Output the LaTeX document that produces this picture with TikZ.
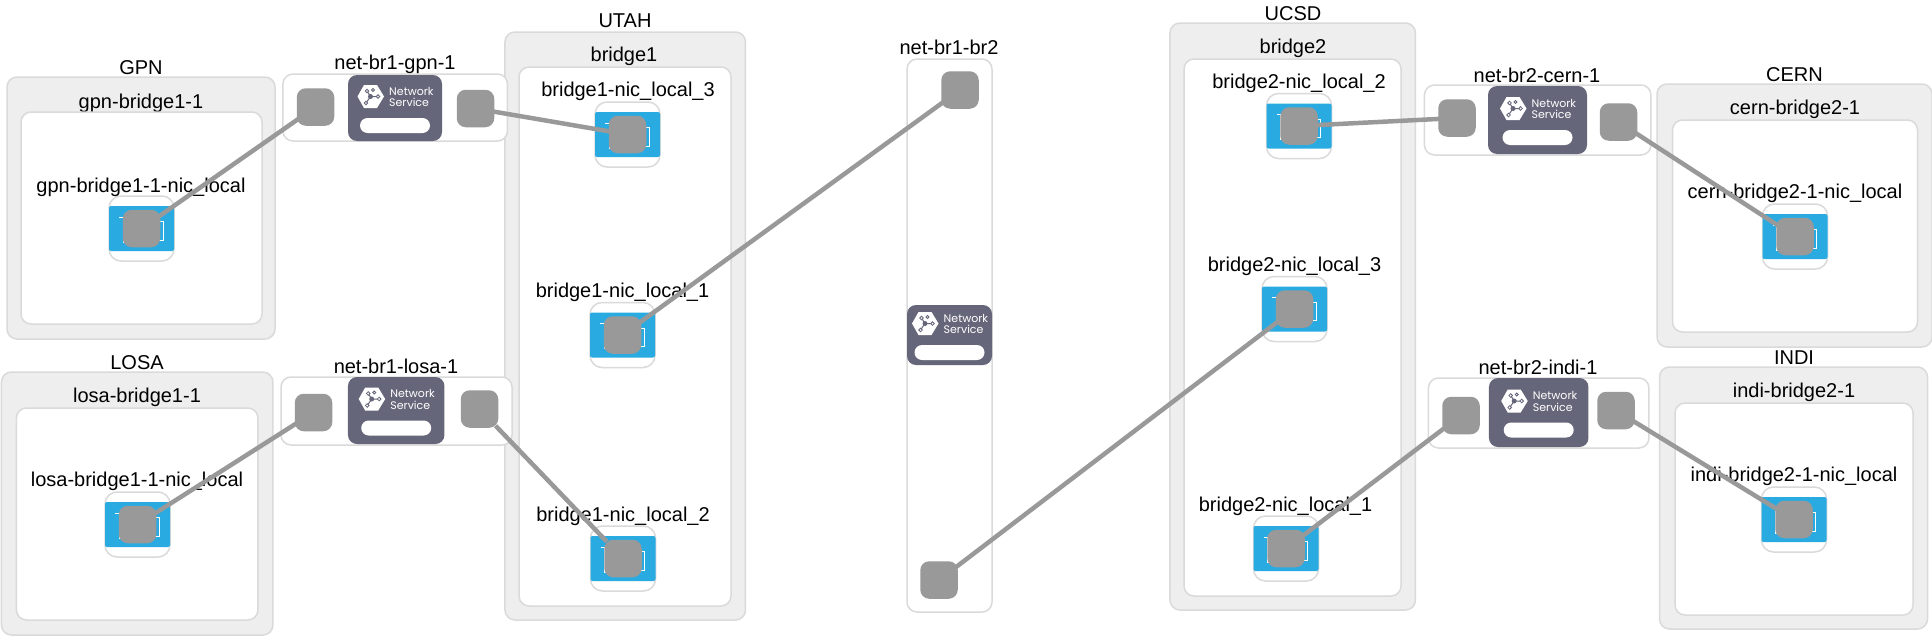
\documentclass[tikz,border=0pt]{standalone}
\usepackage{fontspec}
\usepackage{xcolor}
\setmainfont{Liberation Sans}
\newfontfamily\logofont{Poppins}
\usetikzlibrary{positioning,calc}
\definecolor{sitegray}{HTML}{EEEEEE}
\definecolor{edgegray}{HTML}{DADADA}
\definecolor{portgray}{HTML}{999999}
\definecolor{slate}{HTML}{66667A}
\definecolor{nicblue}{HTML}{29ABE2}

\begin{document}
\begin{tikzpicture}[
    x=1pt, y=-1pt,
    site/.style={rectangle, draw=edgegray, line width=1.5pt, fill=sitegray, rounded corners=10pt, inner sep=0pt},
    inner/.style={rectangle, draw=edgegray, line width=1.5pt, fill=white, rounded corners=10pt, inner sep=0pt},
    network/.style={inner},
    title/.style={font=\fontsize{20}{24}\selectfont, inner sep=0pt, yshift=-1.5pt},
    nicbox/.style={inner, minimum width=65pt, minimum height=65pt, rounded corners=12pt},
    nicface/.style={rectangle, fill=nicblue, minimum width=65pt, minimum height=45pt, rounded corners=2pt, inner sep=0pt},
    port/.style={rectangle, fill=portgray, minimum size=37.5pt, rounded corners=9pt, inner sep=0pt},
    service/.style={rectangle, fill=slate, rounded corners=9pt, inner sep=0pt},
    link/.style={draw=portgray, line width=4.5pt, shorten <=-3pt, shorten >=-3pt},
    nslogo/.pic={
        \fill[white] (-37.5,-11.5) -- (-31,-23) -- (-18,-23) -- (-11,-11.5) -- (-18,0) -- (-31,0) -- cycle;
        \draw[slate, line width=1pt] (-24.5,-11.5) -- (-28,-17) (-24.5,-11.5) -- (-17,-11.5) (-24.5,-11.5) -- (-29,-5);
        \fill[slate] (-24.5,-11.5) circle (2.5);
        \draw[slate, line width=0.8pt, fill=white] (-28,-17) circle (1.8) (-17,-11.5) circle (1.8) (-29,-5) circle (1.8) (-22,-18) circle (1.5);
        \node[anchor=west, align=left, text=white, inner sep=0pt, font=\logofont\fontsize{11}{11.5}\selectfont] (text) at (-6,-11) {Network\\Service};
        \fill[white, rounded corners=7.5pt] (-35,10) rectangle (35,25);
    },
    nicglyph/.pic={
        \draw[white, line width=1pt] (-22.5,-11.5) -- (-18.5,-11.5) -- (-18.5,13.5) -- (-15,13.5);
        \draw[white, line width=1pt] (13,-7) -- (21.5,-7) -- (21.5,11.5) -- (13,11.5);
    }
]
    \useasboundingbox (0,0) rectangle (1932,637);

    % Sites
    \node[site, minimum width=268pt, minimum height=262pt] (gpn) at (141,208) {};
    \node[site, minimum width=271.5pt, minimum height=263pt] (losa) at (137.2,503.5) {};
    \node[site, minimum width=240.5pt, minimum height=588pt] (utah) at (625.2,326) {};
    \node[site, minimum width=245.5pt, minimum height=587pt] (ucsd) at (1292.7,316.5) {};
    \node[site, minimum width=275pt, minimum height=263pt] (cern) at (1794.5,215.5) {};
    \node[site, minimum width=268pt, minimum height=262pt] (indi) at (1793.5,498) {};

    % Site titles
    \node[title] (gpntitle) at (141,66) {GPN};
    \node[title] (losatitle) at (137,361) {LOSA};
    \node[title] (utahtitle) at (625,19) {UTAH};
    \node[title] (ucsdtitle) at (1293,12) {UCSD};
    \node[title] (cerntitle) at (1794.5,73) {CERN};
    \node[title] (indititle) at (1794,356) {INDI};

    % Containers
    \node[title] (gpnbrlabel) at (141,102) {gpn-bridge1-1};
    \node[title] (losabrlabel) at (137,396) {losa-bridge1-1};
    \node[title] (br1label) at (624,55) {bridge1};
    \node[title] (br2label) at (1293,47) {bridge2};
    \node[title] (cernbrlabel) at (1795,108) {cern-bridge2-1};
    \node[title] (indibrlabel) at (1794,391) {indi-bridge2-1};
    \node[inner, minimum width=241pt, minimum height=212pt] (gpnbr) at (141.5,218) {};
    \node[inner, minimum width=241.5pt, minimum height=212pt] (losabr) at (137.2,514) {};
    \node[inner, minimum width=212pt, minimum height=539pt] (br1) at (625,336.5) {};
    \node[inner, minimum width=217pt, minimum height=537pt] (br2) at (1292.5,327.5) {};
    \node[inner, minimum width=245pt, minimum height=212pt] (cernbr) at (1795,226) {};
    \node[inner, minimum width=238pt, minimum height=212pt] (indibr) at (1794,509) {};

    % Networks
    \node[network, minimum width=224.5pt, minimum height=67pt] (netgpn) at (395.2,107.5) {};
    \node[network, minimum width=231pt, minimum height=68pt] (netlosa) at (396.5,411) {};
    \node[network, minimum width=85pt, minimum height=553pt] (netbr) at (949.5,335.5) {};
    \node[network, minimum width=226.5pt, minimum height=70pt] (netcern) at (1537.7,120) {};
    \node[network, minimum width=220.5pt, minimum height=70pt] (netindi) at (1538.7,413) {};

    % Network labels
    \node[title] (netgpnlabel) at (395,63) {net-br1-gpn-1};
    \node[title] (netlosalabel) at (396,365) {net-br1-losa-1};
    \node[title] (netbrlabel) at (949,45.5) {net-br1-br2};
    \node[title] (netcernlabel) at (1537,74) {net-br2-cern-1};
    \node[title] (netindilabel) at (1538,366) {net-br2-indi-1};

    % Services
    \node[service, minimum width=94pt, minimum height=66pt] (svcgpn) at (395,108) {};
    \node[service, minimum width=96.5pt, minimum height=67pt] (svclosa) at (396.2,410.5) {};
    \node[service, minimum width=85pt, minimum height=60pt] (svcbr) at (949.5,335) {};
    \node[service, minimum width=99pt, minimum height=68pt] (svccern) at (1537.5,120) {};
    \node[service, minimum width=99.5pt, minimum height=69pt] (svcindi) at (1538.7,412.5) {};
    \pic (logogpn) at (svcgpn.center) {nslogo};
    \pic (logolosa) at (svclosa.center) {nslogo};
    \pic (logobr) at (svcbr.center) {nslogo};
    \pic (logocern) at (svccern.center) {nslogo};
    \pic (logoindi) at (svcindi.center) {nslogo};

    % NIC boxes
    \node[nicbox] (gpnnicbox) at (141.5,228.5) {};
    \node[nicbox] (losanicbox) at (137.5,524.5) {};
    \node[nicbox] (nic3box) at (627.5,134.5) {};
    \node[nicbox] (nic1box) at (622.5,335) {};
    \node[nicbox] (nic2box) at (623,558.5) {};
    \node[nicbox] (b2nic2box) at (1299,126) {};
    \node[nicbox] (b2nic3box) at (1294.5,309) {};
    \node[nicbox] (b2nic1box) at (1286,548.5) {};
    \node[nicbox] (cernnicbox) at (1795,236.5) {};
    \node[nicbox] (indinicbox) at (1794,519.5) {};

    \node[nicface] (gpnface) at (gpnnicbox) {};
    \node[nicface] (losaface) at (losanicbox) {};
    \node[nicface] (nic3face) at (nic3box) {};
    \node[nicface] (nic1face) at (nic1box) {};
    \node[nicface] (nic2face) at (nic2box) {};
    \node[nicface] (b2nic2face) at (b2nic2box) {};
    \node[nicface] (b2nic3face) at (b2nic3box) {};
    \node[nicface] (b2nic1face) at (b2nic1box) {};
    \node[nicface] (cernface) at (cernnicbox) {};
    \node[nicface] (indiface) at (indinicbox) {};

    \pic (gpnglyph) at (gpnnicbox.center) {nicglyph};
    \pic (losaglyph) at (losanicbox.center) {nicglyph};
    \pic (nic3glyph) at (nic3box.center) {nicglyph};
    \pic (nic1glyph) at (nic1box.center) {nicglyph};
    \pic (nic2glyph) at (nic2box.center) {nicglyph};
    \pic (b2nic2glyph) at (b2nic2box.center) {nicglyph};
    \pic (b2nic3glyph) at (b2nic3box.center) {nicglyph};
    \pic (b2nic1glyph) at (b2nic1box.center) {nicglyph};
    \pic (cernglyph) at (cernnicbox.center) {nicglyph};
    \pic (indiglyph) at (indinicbox.center) {nicglyph};

    % NIC labels
    \node[title] (gpnniclabel) at (141,186) {gpn-bridge1-1-nic\_local};
    \node[title] (losaniclabel) at (137,480) {losa-bridge1-1-nic\_local};
    \node[title] (nic3label) at (628,90) {bridge1-nic\_local\_3};
    \node[title] (nic1label) at (622.5,291) {bridge1-nic\_local\_1};
    \node[title] (nic2label) at (623,515) {bridge1-nic\_local\_2};
    \node[title] (b2nic2label) at (1299,82) {bridge2-nic\_local\_2};
    \node[title] (b2nic3label) at (1294.5,265) {bridge2-nic\_local\_3};
    \node[title] (b2nic1label) at (1285.5,505) {bridge2-nic\_local\_1};
    \node[title] (cernniclabel) at (1795,192) {cern-bridge2-1-nic\_local};
    \node[title] (indiniclabel) at (1794,475) {indi-bridge2-1-nic\_local};

    % Ports
    \node[port] (gpnnic) at (141.5,228.5) {};
    \node[port] (losanic) at (137.5,524.5) {};
    \node[port] (nic3) at (627.5,134.5) {};
    \node[port] (nic1) at (622.5,335) {};
    \node[port] (nic2) at (623,558.5) {};
    \node[port] (b2nic2) at (1299,126) {};
    \node[port] (b2nic3) at (1294.5,309) {};
    \node[port] (b2nic1) at (1286,548.5) {};
    \node[port] (cernnic) at (1795,236.5) {};
    \node[port] (indinic) at (1794,519.5) {};
    \node[port] (netgpnl) at (315.5,107) {};
    \node[port] (netgpnr) at (475.5,108.5) {};
    \node[port] (netlosal) at (313.5,412.5) {};
    \node[port] (netlosar) at (479.5,409) {};
    \node[port] (netbrt) at (960,90) {};
    \node[port] (netbrb) at (939,580) {};
    \node[port] (netcernl) at (1457,118) {};
    \node[port] (netcernr) at (1618.5,122) {};
    \node[port] (netindil) at (1461,415.5) {};
    \node[port] (netindir) at (1616,410.5) {};

    % Edges
    \draw[link] (gpnnic) -- (netgpnl);
    \draw[link] (netgpnr) -- (nic3);
    \draw[link] (losanic) -- (netlosal);
    \draw[link] (netlosar) -- (nic2);
    \draw[link] (nic1) -- (netbrt);
    \draw[link] (netbrb) -- (b2nic3);
    \draw[link] (b2nic2) -- (netcernl);
    \draw[link] (netcernr) -- (cernnic);
    \draw[link] (b2nic1) -- (netindil);
    \draw[link] (netindir) -- (indinic);
\end{tikzpicture}
\end{document}
